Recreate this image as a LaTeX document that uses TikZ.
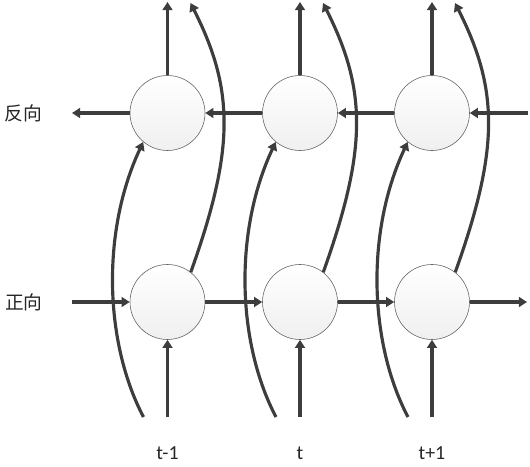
\documentclass[tikz,border=0pt]{standalone}
\usepackage{fontspec}
\setmainfont{Carlito}
\newfontfamily\cjkfont{Noto Sans CJK SC}
\usetikzlibrary{arrows.meta,calc}
\definecolor{LineClr}{rgb}{0.24,0.24,0.24}
\definecolor{CellClr}{rgb}{0.38,0.38,0.38}

\begin{document}
\begin{tikzpicture}[x=0.3mm,y=-0.3mm,
  cell/.style={circle,draw=CellClr,line width=0.5pt,minimum size=2.25cm,inner sep=0pt,top color=white,bottom color=black!6},
  flow/.style={draw=LineClr,line width=2.7pt,-{Triangle[length=7pt,width=8.5pt]}},
  steplbl/.style={font=\fontsize{17}{20}\selectfont,text=black!85},
  dirlbl/.style={font=\cjkfont\fontsize{16}{18}\selectfont,text=black!85}]
\useasboundingbox (0,0) rectangle (530,467);

\foreach \i/\x/\t in {1/167.5/t-1,2/300/t,3/432/t+1}{
  \node[cell] (b\i) at (\x,113) {};
  \node[cell] (f\i) at (\x,302) {};
  \coordinate (in\i) at (\x,417);
  \coordinate (out\i) at (\x,2);
  \coordinate (s\i) at (\x-24,417);
  \coordinate (e\i) at (\x+23,3);
  \node[steplbl] (t\i) at (\x,453) {\t};
}

\coordinate (bl) at (72,113);
\coordinate (br) at (528,113);
\coordinate (fl) at (72,302);
\coordinate (fr) at (527,302);

\node[dirlbl] (rev) at (23,113) {反向};
\node[dirlbl] (fwd) at (24,302) {正向};

\foreach \i in {1,2,3}{
  \draw[flow] (in\i) -- (f\i);
  \draw[flow] (b\i) -- (out\i);
  \draw[flow] (s\i) .. controls +(-38,-72) and +(-43,92) .. (b\i.230);
  \draw[flow] (f\i.52) .. controls +(44,-123) and +(44,87) .. (e\i);
}

\draw[flow] (br) -- (b3);
\draw[flow] (b3) -- (b2);
\draw[flow] (b2) -- (b1);
\draw[flow] (b1) -- (bl);
\draw[flow] (fl) -- (f1);
\draw[flow] (f1) -- (f2);
\draw[flow] (f2) -- (f3);
\draw[flow] (f3) -- (fr);

\end{tikzpicture}
\end{document}
